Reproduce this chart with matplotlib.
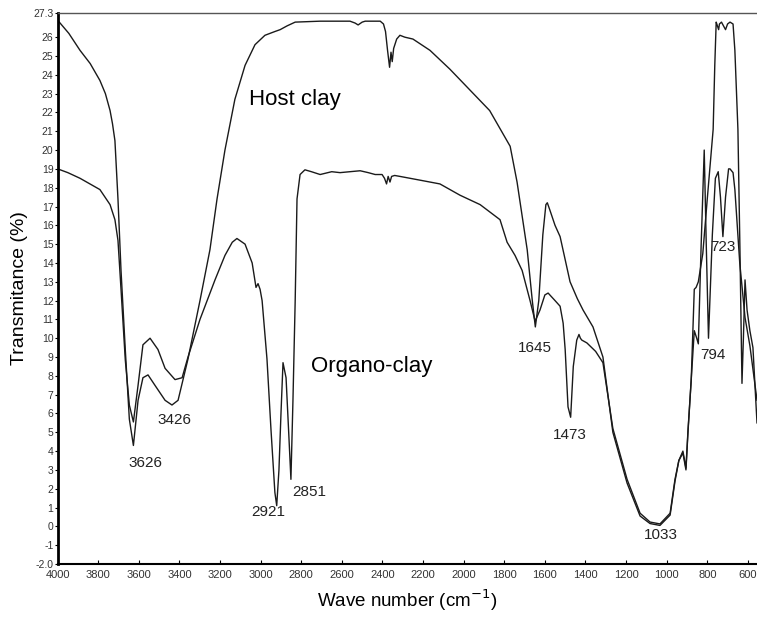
import matplotlib
matplotlib.use("Agg")
import matplotlib.pyplot as plt

plt.rcParams['font.family'] = ['Liberation Sans', 'DejaVu Sans']

# host clay spectrum (wavenumber, transmittance)
host_wn = [4000, 3945, 3890, 3840, 3792, 3765, 3742, 3730, 3718, 3703, 3688, 3667,
           3647, 3627, 3604, 3580, 3555, 3521, 3471, 3437, 3407, 3358, 3299, 3250,
           3215, 3176, 3127, 3077, 3028, 2979, 2930, 2904, 2870, 2830, 2707, 2560,
           2535, 2520, 2500, 2485, 2411, 2395, 2385, 2375, 2365, 2358, 2352, 2345,
           2330, 2314, 2290, 2250, 2166, 2068, 1970, 1872, 1771, 1737, 1687, 1662,
           1647, 1630, 1610, 1595, 1588, 1575, 1550, 1525, 1476, 1440, 1412, 1363,
           1314, 1265, 1195, 1131, 1082, 1033, 983, 959, 940, 920, 905, 895, 879,
           864, 855, 844, 822, 800, 771, 763, 756, 750, 744, 740, 730, 720, 710,
           700, 688, 673, 664, 649, 639, 629, 622, 614, 604, 590, 575, 555]
host_t = [26.9, 26.2, 25.3, 24.6, 23.7, 23.0, 22.1, 21.4, 20.5, 17.4, 13.6, 9.4,
          5.7, 4.3, 6.7, 7.9, 8.05, 7.5, 6.7, 6.45, 6.7, 8.9, 12.0, 14.7,
          17.4, 20.0, 22.7, 24.5, 25.6, 26.1, 26.3, 26.4, 26.6, 26.8, 26.85, 26.85,
          26.75, 26.65, 26.8, 26.85, 26.85, 26.7, 26.3, 25.3, 24.4, 25.2, 24.7, 25.4,
          25.9, 26.1, 26.0, 25.9, 25.3, 24.3, 23.2, 22.1, 20.2, 18.3, 14.7, 12.0,
          10.6, 12.0, 15.5, 17.1, 17.2, 16.8, 16.0, 15.4, 13.0, 12.1, 11.5, 10.6,
          9.0, 5.0, 2.3, 0.55, 0.15, 0.05, 0.6, 2.4, 3.5, 3.9, 3.0, 5.0, 7.8,
          12.6, 12.7, 13.0, 14.5, 17.4, 21.1, 24.5, 26.8, 26.6, 26.4, 26.7, 26.8, 26.6, 26.4,
          26.7, 26.8, 26.7, 25.3, 21.1, 14.7, 7.6, 10.0, 13.1, 11.5, 10.4, 9.5, 5.5]

# organo-clay spectrum
org_wn = [4000, 3950, 3890, 3792, 3742, 3718, 3703, 3688, 3667, 3647, 3627, 3604,
          3580, 3545, 3506, 3471, 3422, 3387, 3358, 3299, 3225, 3176, 3140, 3117,
          3077, 3042, 3023, 3013, 3003, 2993, 2969, 2949, 2930, 2921, 2910, 2900,
          2890, 2875, 2862, 2851, 2841, 2830, 2821, 2806, 2782, 2750, 2707, 2650,
          2609, 2560, 2510, 2470, 2436, 2402, 2390, 2380, 2372, 2363, 2355, 2340,
          2314, 2215, 2117, 2018, 1919, 1821, 1786, 1747, 1712, 1673, 1648, 1624,
          1600, 1584, 1550, 1525, 1510, 1500, 1486, 1473, 1460, 1443, 1432, 1425,
          1418, 1393, 1350, 1314, 1265, 1195, 1131, 1082, 1033, 983, 959, 940,
          920, 905, 895, 879, 864, 852, 844, 830, 815, 805, 794, 775, 760, 746,
          735, 723, 710, 695, 688, 673, 664, 640, 614, 590, 555]
org_t = [19.0, 18.8, 18.5, 17.9, 17.1, 16.3, 15.2, 12.6, 8.85, 6.45, 5.55, 7.5,
         9.65, 10.0, 9.4, 8.4, 7.8, 7.9, 9.0, 11.0, 13.1, 14.4, 15.1, 15.3,
         15.0, 14.0, 12.7, 12.9, 12.6, 12.0, 8.9, 5.1, 1.8, 1.1, 3.0, 6.0,
         8.7, 7.9, 5.0, 2.5, 6.7, 12.0, 17.4, 18.7, 18.95, 18.85, 18.7, 18.85,
         18.8, 18.85, 18.9, 18.8, 18.7, 18.7, 18.5, 18.2, 18.6, 18.3, 18.6, 18.65,
         18.6, 18.4, 18.2, 17.6, 17.1, 16.3, 15.1, 14.4, 13.6, 12.0, 10.9, 11.5,
         12.3, 12.4, 12.0, 11.7, 10.8, 9.4, 6.35, 5.8, 8.5, 9.9, 10.2, 10.0,
         9.9, 9.75, 9.3, 8.7, 5.2, 2.5, 0.7, 0.23, 0.13, 0.7, 2.5, 3.5,
         4.0, 3.1, 5.1, 7.8, 10.4, 10.0, 9.7, 15.0, 20.0, 15.0, 10.0, 15.5, 18.5, 18.85,
         17.5, 15.4, 17.5, 19.0, 19.0, 18.8, 17.9, 14.0, 11.1, 9.6, 6.7]

# band labels: text, x, y
band_text = ["3626", "3426", "2921", "2851", "1645", "1473", "1033", "794", "723"]
band_x = [3570, 3426, 2964, 2762, 1649, 1476, 1028, 772, 723]
band_y = [3.37, 5.66, 0.77, 1.83, 9.49, 4.86, -0.46, 9.1, 14.86]

xticks = list(range(4000, 599, -200))
yticks = list(range(-2, 27)) + [27.3]
yticklabels = ['-2.0'] + [str(v) for v in range(-1, 27)] + ['27.3']

fig = plt.figure(figsize=(7.57, 6.17), dpi=100)
ax = fig.add_axes([0.0762, 0.0859, 0.9238, 0.8935])

ax.plot(host_wn, host_t, color='#1a1a1a', lw=1.0)
ax.plot(org_wn, org_t, color='#1a1a1a', lw=1.0)

for t, x, y in zip(band_text, band_x, band_y):
    ax.text(x, y, t, fontsize=11, ha='center', va='center', color='#222222')

ax.text(2831, 22.7, "Host clay", fontsize=16, ha='center', va='center')
ax.text(2452, 8.48, "Organo-clay", fontsize=16, ha='center', va='center')

ax.set_xlim(4000, 555)
ax.set_ylim(-2.0, 27.3)
ax.set_xticks(xticks)
ax.set_xticklabels([str(v) for v in xticks], fontsize=8, color='#333333')
ax.set_yticks(yticks)
ax.set_yticklabels(yticklabels, fontsize=7.5, color='#333333')
ax.tick_params(axis='x', direction='in', length=3, pad=4)
ax.tick_params(axis='y', direction='out', length=2, pad=1)

ax.spines['left'].set_linewidth(2.0)
ax.spines['bottom'].set_linewidth(1.5)
ax.spines['top'].set_linewidth(1.0)
ax.spines['top'].set_color('#555555')
ax.spines['right'].set_visible(False)

ax.set_xlabel("Wave number (cm$^{-1}$)", fontsize=13.5, labelpad=6)
ax.set_ylabel("Transmitance (%)", fontsize=14, labelpad=4)

fig.savefig("out.png", dpi=100)
